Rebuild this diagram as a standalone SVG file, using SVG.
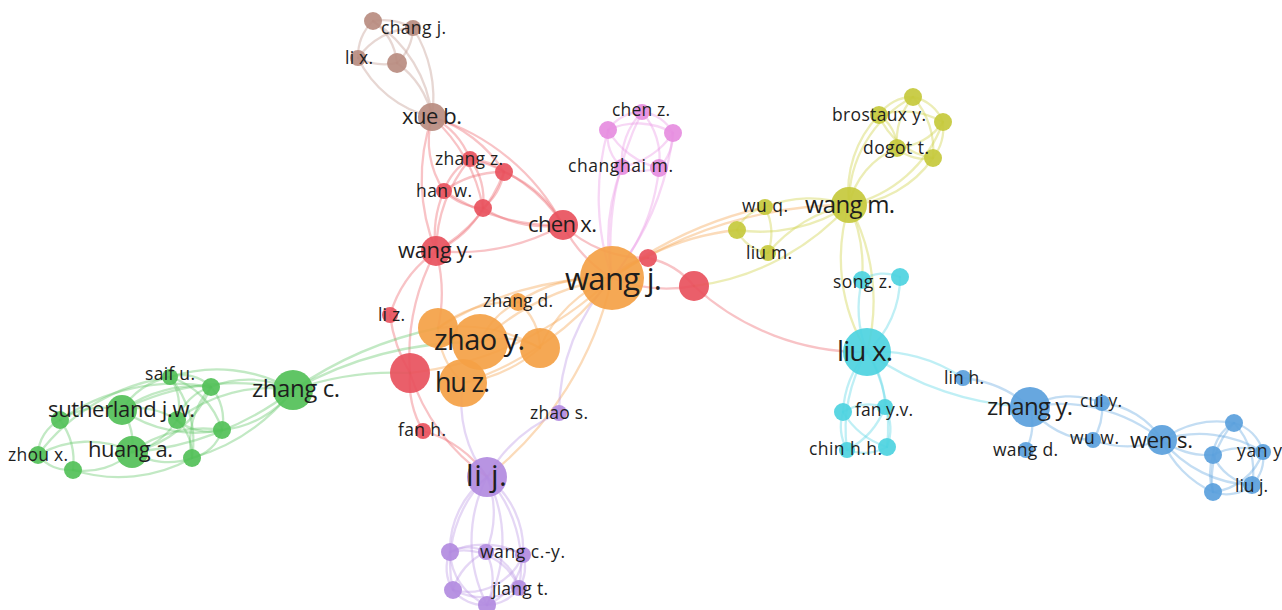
<svg xmlns="http://www.w3.org/2000/svg" width="1282" height="610" viewBox="0 0 1282 610">
<style>
.e path{fill:none;stroke-width:2.3;stroke-opacity:.4;stroke-linecap:round}
.eb path{stroke:#c39b90}.er path{stroke:#ee6a70}.eo path{stroke:#f6a653}.ey path{stroke:#cfd148}
.ek path{stroke:#ec9ae6}.eg path{stroke:#66c96b}.ep path{stroke:#bd9ae6}.ec path{stroke:#5fd8e5}.eu path{stroke:#69a9e2}
circle{fill-opacity:.92}
.b{fill:#b98c80}.r{fill:#e8515d}.o{fill:#f4a145}.y{fill:#c6c93c}.k{fill:#e68de0}
.g{fill:#52c058}.p{fill:#b28be0}.c{fill:#4dd2e0}.u{fill:#5a9fdc}
text{font-family:"Open Sans","Noto Sans","DejaVu Sans",sans-serif;fill:#1e1e1e}
.s{font-size:17.5px}.m{font-size:22px}.l{font-size:24px}
</style>
<rect width="1282" height="610" fill="#fff"/>
<g id="connectors" class="e">
<g class="eb">
<path d="M373 21A60 60 0 0 1 413 28"/><path d="M373 21A50 50 0 0 0 358 58"/><path d="M373 21A60 60 0 0 1 397 63"/>
<path d="M413 28A70 70 0 0 0 358 58"/><path d="M413 28A50 50 0 0 1 397 63"/><path d="M358 58A60 60 0 0 0 397 63"/>
<path d="M373 21A130 130 0 0 1 432 117"/><path d="M413 28A130 130 0 0 1 432 117"/><path d="M358 58A110 110 0 0 0 432 117"/><path d="M397 63A90 90 0 0 1 432 117"/>
</g>
<g class="er">
<path d="M432 117A80 80 0 0 1 470 159"/><path d="M432 117A130 130 0 0 1 504 172"/><path d="M432 117A90 90 0 0 0 444 191"/>
<path d="M432 117A160 160 0 0 1 483 208"/><path d="M432 117A220 220 0 0 1 563 225"/><path d="M432 117A190 190 0 0 0 436 251"/>
<path d="M470 159A60 60 0 0 1 504 172"/><path d="M470 159A60 60 0 0 0 444 191"/><path d="M470 159A70 70 0 0 1 483 208"/>
<path d="M470 159A150 150 0 0 1 563 225"/><path d="M470 159A150 150 0 0 0 436 251"/><path d="M504 172A60 60 0 0 1 483 208"/>
<path d="M504 172A120 120 0 0 1 563 225"/><path d="M504 172A150 150 0 0 1 436 251"/><path d="M504 172A100 100 0 0 0 444 191"/>
<path d="M444 191A60 60 0 0 0 483 208"/><path d="M444 191A200 200 0 0 0 563 225"/><path d="M444 191A110 110 0 0 0 436 251"/>
<path d="M483 208A120 120 0 0 0 563 225"/><path d="M483 208A100 100 0 0 1 436 251"/><path d="M563 225A220 220 0 0 1 436 251"/>
<path d="M563 225A130 130 0 0 0 612 278"/><path d="M563 225A120 120 0 0 0 648 258"/><path d="M436 251A120 120 0 0 0 390 315"/>
<path d="M436 251A220 220 0 0 0 410 373"/><path d="M436 251A160 160 0 0 1 438 328"/><path d="M390 315A150 150 0 0 0 410 373"/>
<path d="M410 373A100 100 0 0 0 423 431"/><path d="M648 258A60 60 0 0 0 612 278"/><path d="M612 278A150 150 0 0 0 694 286"/>
<path d="M648 258A80 80 0 0 1 694 286"/><path d="M423 431A110 110 0 0 1 487 477"/><path d="M410 373A200 200 0 0 0 487 477"/>
<path d="M694 286A250 250 0 0 0 867 352"/>
</g>
<g class="eo">
<path d="M612 278A150 150 0 0 0 518 302"/><path d="M612 278A320 320 0 0 0 438 328"/><path d="M612 278A260 260 0 0 0 480 342"/>
<path d="M612 278A130 130 0 0 0 540 348"/><path d="M612 278A300 300 0 0 1 463 383"/><path d="M612 278A350 350 0 0 1 410 373"/>
<path d="M518 302A120 120 0 0 0 438 328"/><path d="M518 302A80 80 0 0 0 480 342"/><path d="M518 302A60 60 0 0 1 540 348"/>
<path d="M438 328A160 160 0 0 1 540 348"/><path d="M463 383A150 150 0 0 0 540 348"/><path d="M438 328A80 80 0 0 0 463 383"/>
<path d="M480 342A80 80 0 0 1 540 348"/><path d="M612 278A260 260 0 0 1 737 230"/><path d="M612 278A400 400 0 0 1 765 207"/>
<path d="M612 278A420 420 0 0 1 849 205"/><path d="M612 278A350 350 0 0 1 487 477"/>
</g>
<g class="ek">
<path d="M642 112A40 40 0 0 0 608 130"/><path d="M642 112A40 40 0 0 1 673 133"/><path d="M642 112A70 70 0 0 0 622 167"/>
<path d="M642 112A70 70 0 0 1 659 168"/><path d="M608 130A70 70 0 0 1 673 133"/><path d="M608 130A80 80 0 0 0 659 168"/>
<path d="M673 133A80 80 0 0 1 622 167"/><path d="M673 133A50 50 0 0 1 659 168"/><path d="M622 167A50 50 0 0 0 659 168"/>
<path d="M608 130A40 40 0 0 0 622 167"/><path d="M608 130A250 250 0 0 0 612 278"/><path d="M642 112A300 300 0 0 0 612 278"/>
<path d="M622 167A200 200 0 0 0 612 278"/><path d="M659 168A200 200 0 0 1 612 278"/><path d="M673 133A280 280 0 0 1 612 278"/>
</g>
<g class="ey">
<path d="M913 97A40 40 0 0 0 879 115"/><path d="M913 97A40 40 0 0 1 943 122"/><path d="M879 115A80 80 0 0 1 943 122"/>
<path d="M879 115A40 40 0 0 1 897 148"/><path d="M943 122A60 60 0 0 1 897 148"/><path d="M943 122A50 50 0 0 1 933 158"/>
<path d="M897 148A40 40 0 0 0 933 158"/><path d="M879 115A70 70 0 0 0 933 158"/><path d="M913 97A70 70 0 0 0 897 148"/>
<path d="M913 97A80 80 0 0 1 933 158"/><path d="M849 205A120 120 0 0 1 913 97"/><path d="M849 205A110 110 0 0 1 879 115"/>
<path d="M849 205A130 130 0 0 0 943 122"/><path d="M849 205A80 80 0 0 1 897 148"/><path d="M849 205A110 110 0 0 0 933 158"/>
<path d="M849 205A120 120 0 0 0 765 207"/><path d="M849 205A160 160 0 0 1 737 230"/><path d="M849 205A140 140 0 0 0 768 253"/>
<path d="M765 207A40 40 0 0 0 737 230"/><path d="M765 207A60 60 0 0 1 768 253"/><path d="M737 230A40 40 0 0 0 768 253"/>
<path d="M694 286A250 250 0 0 0 849 205"/><path d="M849 205A180 180 0 0 0 867 352"/><path d="M849 205A150 150 0 0 1 862 280"/>
<path d="M849 205A200 200 0 0 1 867 352"/>
</g>
<g class="ec">
<path d="M867 352A120 120 0 0 1 862 280"/><path d="M867 352A100 100 0 0 0 900 277"/><path d="M862 280A40 40 0 0 1 900 277"/>
<path d="M867 352A100 100 0 0 0 843 412"/><path d="M867 352A100 100 0 0 1 885 407"/><path d="M867 352A150 150 0 0 0 847 450"/>
<path d="M867 352A150 150 0 0 1 887 447"/><path d="M843 412A50 50 0 0 1 885 407"/><path d="M843 412A50 50 0 0 0 847 450"/>
<path d="M843 412A80 80 0 0 0 887 447"/><path d="M885 407A80 80 0 0 1 847 450"/><path d="M885 407A50 50 0 0 1 887 447"/>
<path d="M847 450A50 50 0 0 0 887 447"/><path d="M867 352A150 150 0 0 1 963 378"/><path d="M867 352A300 300 0 0 0 1030 407"/>
</g>
<g class="eu">
<path d="M963 378A120 120 0 0 1 1030 407"/><path d="M1030 407A80 80 0 0 1 1102 403"/><path d="M1030 407A60 60 0 0 1 1026 450"/>
<path d="M1030 407A80 80 0 0 0 1093 440"/><path d="M1030 407A160 160 0 0 1 1162 440"/><path d="M1102 403A60 60 0 0 1 1093 440"/>
<path d="M1102 403A80 80 0 0 1 1162 440"/><path d="M1093 440A100 100 0 0 0 1162 440"/><path d="M1162 440A90 90 0 0 1 1234 423"/>
<path d="M1162 440A80 80 0 0 0 1213 455"/><path d="M1162 440A120 120 0 0 1 1263 452"/><path d="M1162 440A120 120 0 0 0 1252 485"/>
<path d="M1162 440A100 100 0 0 0 1213 492"/><path d="M1234 423A40 40 0 0 0 1213 455"/><path d="M1234 423A40 40 0 0 1 1263 452"/>
<path d="M1234 423A70 70 0 0 1 1252 485"/><path d="M1234 423A80 80 0 0 0 1213 492"/><path d="M1213 455A60 60 0 0 1 1263 452"/>
<path d="M1213 455A50 50 0 0 0 1252 485"/><path d="M1213 455A60 60 0 0 0 1213 492"/><path d="M1263 452A40 40 0 0 1 1252 485"/>
<path d="M1252 485A40 40 0 0 1 1213 492"/><path d="M1263 452A60 60 0 0 1 1213 492"/>
</g>
<g class="eg">
<path d="M293 390A400 400 0 0 1 438 328"/><path d="M293 390A380 380 0 0 1 480 342"/><path d="M293 390A300 300 0 0 1 410 373"/>
<path d="M293 390A150 150 0 0 0 170 377"/><path d="M293 390A100 100 0 0 0 211 387"/><path d="M293 390A150 150 0 0 0 177 420"/>
<path d="M293 390A100 100 0 0 1 222 430"/><path d="M293 390A200 200 0 0 1 192 458"/><path d="M293 390A250 250 0 0 0 122 410"/>
<path d="M293 390A300 300 0 0 1 132 452"/><path d="M122 410A80 80 0 0 0 60 420"/><path d="M122 410A70 70 0 0 1 170 377"/>
<path d="M122 410A60 60 0 0 1 132 452"/><path d="M122 410A70 70 0 0 1 177 420"/><path d="M122 410A130 130 0 0 1 211 387"/>
<path d="M122 410A130 130 0 0 0 222 430"/><path d="M132 452A100 100 0 0 0 38 455"/><path d="M132 452A70 70 0 0 1 73 470"/>
<path d="M132 452A70 70 0 0 0 192 458"/><path d="M132 452A70 70 0 0 0 177 420"/><path d="M132 452A110 110 0 0 0 211 387"/>
<path d="M132 452A120 120 0 0 1 222 430"/><path d="M60 420A40 40 0 0 0 38 455"/><path d="M60 420A70 70 0 0 1 73 470"/>
<path d="M38 455A40 40 0 0 0 73 470"/><path d="M60 420A200 200 0 0 1 211 387"/><path d="M73 470A150 150 0 0 0 192 458"/>
<path d="M38 455A200 200 0 0 1 170 377"/><path d="M170 377A40 40 0 0 1 211 387"/><path d="M170 377A50 50 0 0 1 177 420"/>
<path d="M170 377A80 80 0 0 1 222 430"/><path d="M170 377A100 100 0 0 1 192 458"/><path d="M211 387A50 50 0 0 0 177 420"/>
<path d="M211 387A50 50 0 0 1 222 430"/><path d="M177 420A50 50 0 0 0 222 430"/><path d="M177 420A50 50 0 0 1 192 458"/>
<path d="M222 430A40 40 0 0 1 192 458"/><path d="M211 387A80 80 0 0 0 192 458"/>
</g>
<g class="ep">
<path d="M559 413A200 200 0 0 1 612 278"/><path d="M487 477A150 150 0 0 1 559 413"/><path d="M463 383A120 120 0 0 0 487 477"/>
<path d="M487 477A90 90 0 0 0 450 552"/><path d="M487 477A100 100 0 0 1 486 552"/><path d="M487 477A90 90 0 0 1 523 555"/>
<path d="M487 477A120 120 0 0 0 453 590"/><path d="M487 477A140 140 0 0 1 487 605"/><path d="M487 477A130 130 0 0 1 519 588"/>
<path d="M487 477A140 140 0 0 0 487 605"/><path d="M450 552A40 40 0 0 1 486 552"/><path d="M450 552A80 80 0 0 1 523 555"/>
<path d="M450 552A40 40 0 0 0 453 590"/><path d="M450 552A60 60 0 0 0 487 605"/><path d="M450 552A60 60 0 0 1 519 588"/>
<path d="M486 552A40 40 0 0 1 523 555"/><path d="M486 552A60 60 0 0 0 453 590"/><path d="M486 552A60 60 0 0 1 487 605"/>
<path d="M486 552A50 50 0 0 1 519 588"/><path d="M523 555A60 60 0 0 1 453 590"/><path d="M523 555A40 40 0 0 1 519 588"/>
<path d="M523 555A60 60 0 0 1 487 605"/><path d="M453 590A40 40 0 0 0 487 605"/><path d="M453 590A70 70 0 0 0 519 588"/>
<path d="M487 605A40 40 0 0 0 519 588"/>
</g>
</g>
<g id="nodes">
<g id="n-b1"><circle class="b" cx="373" cy="21" r="9"/></g>
<g id="n-b4"><circle class="b" cx="397" cy="63" r="10"/></g>
<g id="n-r2"><circle class="r" cx="504" cy="172" r="9"/></g>
<g id="n-r4"><circle class="r" cx="483" cy="208" r="9"/></g>
<g id="n-r7"><circle class="r" cx="648" cy="258" r="9"/></g>
<g id="n-r8"><circle class="r" cx="694" cy="286" r="15"/></g>
<g id="n-r10"><circle class="r" cx="410" cy="373" r="20"/></g>
<g id="n-o3"><circle class="o" cx="438" cy="328" r="20"/></g>
<g id="n-o5"><circle class="o" cx="540" cy="348" r="20"/></g>
<g id="n-k2"><circle class="k" cx="608" cy="130" r="9"/></g>
<g id="n-k3"><circle class="k" cx="673" cy="133" r="9"/></g>
<g id="n-k5"><circle class="k" cx="659" cy="168" r="9"/></g>
<g id="n-y1"><circle class="y" cx="913" cy="97" r="9"/></g>
<g id="n-y3"><circle class="y" cx="943" cy="122" r="9"/></g>
<g id="n-y5"><circle class="y" cx="933" cy="158" r="9"/></g>
<g id="n-y8"><circle class="y" cx="737" cy="230" r="9"/></g>
<g id="n-c2"><circle class="c" cx="900" cy="277" r="9"/></g>
<g id="n-c5"><circle class="c" cx="885" cy="407" r="8"/></g>
<g id="n-c7"><circle class="c" cx="887" cy="447" r="9"/></g>
<g id="n-u7"><circle class="u" cx="1234" cy="423" r="9"/></g>
<g id="n-u8"><circle class="u" cx="1213" cy="455" r="9"/></g>
<g id="n-u11"><circle class="u" cx="1213" cy="492" r="9"/></g>
<g id="n-g2"><circle class="g" cx="211" cy="387" r="9"/></g>
<g id="n-g5"><circle class="g" cx="60" cy="420" r="9"/></g>
<g id="n-g6"><circle class="g" cx="177" cy="420" r="9"/></g>
<g id="n-g7"><circle class="g" cx="222" cy="430" r="9"/></g>
<g id="n-g10"><circle class="g" cx="73" cy="470" r="9"/></g>
<g id="n-g11"><circle class="g" cx="192" cy="458" r="9"/></g>
<g id="n-p3"><circle class="p" cx="450" cy="552" r="9"/></g>
<g id="n-p5"><circle class="p" cx="523" cy="555" r="8"/></g>
<g id="n-p6"><circle class="p" cx="453" cy="590" r="9"/></g>
<g id="n-p7"><circle class="p" cx="487" cy="605" r="9"/></g>

<g id="n-chang-j"><circle class="b" cx="413" cy="28" r="8"/><text class="s" x="381" y="34" textLength="65">chang j.</text></g>
<g id="n-li-x"><circle class="b" cx="358" cy="58" r="8"/><text class="s" x="345" y="64" textLength="28">li x.</text></g>
<g id="n-xue-b"><circle class="b" cx="432" cy="117" r="14"/><text class="m" x="402" y="124" textLength="60">xue b.</text></g>
<g id="n-zhang-z"><circle class="r" cx="470" cy="159" r="8"/><text class="s" x="435" y="165" textLength="68">zhang z.</text></g>
<g id="n-han-w"><circle class="r" cx="444" cy="191" r="8"/><text class="s" x="416" y="197" textLength="56">han w.</text></g>
<g id="n-chen-x"><circle class="r" cx="563" cy="225" r="15"/><text class="m" x="528" y="232" textLength="69">chen x.</text></g>
<g id="n-wang-y"><circle class="r" cx="436" cy="251" r="15"/><text class="m" x="398" y="258" textLength="75">wang y.</text></g>
<g id="n-li-z"><circle class="r" cx="390" cy="315" r="8"/><text class="s" x="378" y="321" textLength="27">li z.</text></g>
<g id="n-fan-h"><circle class="r" cx="423" cy="431" r="8"/><text class="s" x="398" y="436" textLength="48">fan h.</text></g>
<g id="n-chen-z"><circle class="k" cx="642" cy="112" r="8"/><text class="s" x="612" y="116" textLength="58">chen z.</text></g>
<g id="n-changhai-m"><circle class="k" cx="622" cy="167" r="8"/><text class="s" x="568" y="172" textLength="105">changhai m.</text></g>
<g id="n-brostaux-y"><circle class="y" cx="879" cy="115" r="9"/><text class="s" x="832" y="121" textLength="94">brostaux y.</text></g>
<g id="n-dogot-t"><circle class="y" cx="897" cy="148" r="9"/><text class="s" x="863" y="154" textLength="66">dogot t.</text></g>
<g id="n-wu-q"><circle class="y" cx="765" cy="207" r="8"/><text class="s" x="742" y="212" textLength="46">wu q.</text></g>
<g id="n-liu-m"><circle class="y" cx="768" cy="253" r="8"/><text class="s" x="746" y="259" textLength="46">liu m.</text></g>
<g id="n-wang-m"><circle class="y" cx="849" cy="205" r="18"/><text class="l" x="805" y="213" textLength="90">wang m.</text></g>
<g id="n-zhang-d"><circle class="o" cx="518" cy="302" r="9"/><text class="s" x="483" y="307" textLength="70">zhang d.</text></g>
<g id="n-wang-j"><circle class="o" cx="612" cy="278" r="32"/><text x="565" y="290" font-size="31" textLength="97">wang j.</text></g>
<g id="n-hu-z"><circle class="o" cx="463" cy="383" r="24"/><text x="435" y="392" font-size="27" textLength="55">hu z.</text></g>
<g id="n-zhao-y"><circle class="o" cx="480" cy="342" r="28"/><text x="434" y="350" font-size="29" textLength="91">zhao y.</text></g>
<g id="n-zhao-s"><circle class="p" cx="559" cy="413" r="8"/><text class="s" x="530" y="419" textLength="58">zhao s.</text></g>
<g id="n-li-j"><circle class="p" cx="487" cy="477" r="20"/><text x="466" y="486" font-size="30" textLength="41">li j.</text></g>
<g id="n-wang-c-y"><circle class="p" cx="486" cy="552" r="8"/><text class="s" x="480" y="558" textLength="85">wang c.-y.</text></g>
<g id="n-jiang-t"><circle class="p" cx="519" cy="588" r="8"/><text class="s" x="492" y="595" textLength="56">jiang t.</text></g>
<g id="n-song-z"><circle class="c" cx="862" cy="280" r="9"/><text class="s" x="833" y="288" textLength="59">song z.</text></g>
<g id="n-liu-x"><circle class="c" cx="867" cy="352" r="24"/><text x="837" y="361" font-size="28" textLength="56">liu x.</text></g>
<g id="n-fan-y-v"><circle class="c" cx="843" cy="412" r="9"/><text class="s" x="855" y="416" textLength="58">fan y.v.</text></g>
<g id="n-chin-h-h"><circle class="c" cx="847" cy="450" r="8"/><text class="s" x="809" y="455" textLength="73">chin h.h.</text></g>
<g id="n-lin-h"><circle class="u" cx="963" cy="378" r="8"/><text class="s" x="944" y="384" textLength="40">lin h.</text></g>
<g id="n-zhang-y"><circle class="u" cx="1030" cy="407" r="20"/><text class="l" x="987" y="415" textLength="86">zhang y.</text></g>
<g id="n-cui-y"><circle class="u" cx="1102" cy="403" r="8"/><text class="s" x="1080" y="407" textLength="42">cui y.</text></g>
<g id="n-wang-d"><circle class="u" cx="1026" cy="450" r="8"/><text class="s" x="993" y="456" textLength="65">wang d.</text></g>
<g id="n-wu-w"><circle class="u" cx="1093" cy="440" r="8"/><text class="s" x="1070" y="444" textLength="49">wu w.</text></g>
<g id="n-wen-s"><circle class="u" cx="1162" cy="440" r="15"/><text class="m" x="1130" y="448" textLength="63">wen s.</text></g>
<g id="n-yan-y"><circle class="u" cx="1263" cy="452" r="8"/><text class="s" x="1237" y="457" textLength="45">yan y</text></g>
<g id="n-liu-j"><circle class="u" cx="1252" cy="485" r="9"/><text class="s" x="1235" y="492" textLength="33">liu j.</text></g>
<g id="n-saif-u"><circle class="g" cx="170" cy="377" r="8"/><text class="s" x="145" y="380" textLength="50">saif u.</text></g>
<g id="n-zhang-c"><circle class="g" cx="293" cy="390" r="20"/><text class="l" x="252" y="397" textLength="88">zhang c.</text></g>
<g id="n-sutherland"><circle class="g" cx="122" cy="410" r="15"/><text class="m" x="48" y="417" textLength="147">sutherland j.w.</text></g>
<g id="n-zhou-x"><circle class="g" cx="38" cy="455" r="9"/><text class="s" x="8" y="461" textLength="60">zhou x.</text></g>
<g id="n-huang-a"><circle class="g" cx="132" cy="452" r="16"/><text class="m" x="88" y="457" textLength="85">huang a.</text></g>
</g>
</svg>
